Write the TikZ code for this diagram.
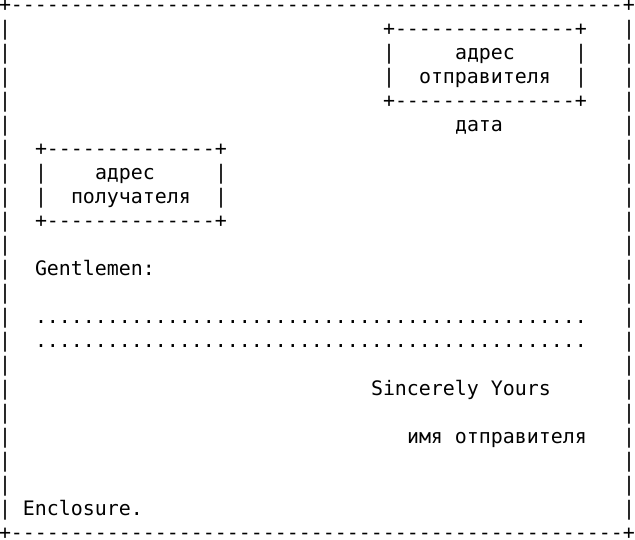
\documentclass[tikz,border=0pt]{standalone}
\usepackage{fontspec}
\setmonofont{DejaVu Sans Mono}
\newcommand\charrun[2]{\foreach \i in {1,...,#1}{#2}}
\begin{document}
\begin{tikzpicture}[x=12pt,y=-24pt]
        \tikzset{
            ch/.style={anchor=base west,inner sep=0pt,outer sep=0pt,
                font=\fontsize{19.93pt}{24pt}\selectfont\ttfamily},
        }
        \useasboundingbox (0pt,0pt) rectangle (635pt,-539pt);
        \begin{scope}[shift={(-1pt,-11.5pt)}]
        % outer frame
        \node[ch] (top) at (0,0) {+\charrun{51}{-}+};
        \foreach \r in {1,...,21} {
            \node[ch] (lb\r) at (0,\r) {|};
            \node[ch] (rb\r) at (52,\r) {|};
        }
        \node[ch] (bot) at (0,22) {+\charrun{51}{-}+};

        % sender box
        \node[ch] (stop) at (32,1) {+\charrun{15}{-}+};
        \node[ch] (sl2) at (32,2) {|};
        \node[ch] (sr2) at (48,2) {|};
        \node[ch] (sl3) at (32,3) {|};
        \node[ch] (sr3) at (48,3) {|};
        \node[ch] (sbot) at (32,4) {+\charrun{15}{-}+};
        \node[ch] (sa) at (38,2) {адрес};
        \node[ch] (sb) at (35,3) {отправителя};
        \node[ch] (date) at (38,5) {дата};

        % recipient box
        \node[ch] (rtop) at (3,6) {+\charrun{14}{-}+};
        \node[ch] (rl7) at (3,7) {|};
        \node[ch] (rr7) at (18,7) {|};
        \node[ch] (rl8) at (3,8) {|};
        \node[ch] (rr8) at (18,8) {|};
        \node[ch] (rbot) at (3,9) {+\charrun{14}{-}+};
        \node[ch] (ra) at (8,7) {адрес};
        \node[ch] (rb) at (6,8) {получателя};

        % body
        \node[ch] (greet) at (3,11) {Gentlemen:};
        \node[ch] (body1) at (3,13) {\charrun{46}{.}};
        \node[ch] (body2) at (3,14) {\charrun{46}{.}};
        \node[ch] (close) at (31,16) {Sincerely Yours};
        \node[ch] (sign) at (34,18) {имя отправителя};
        \node[ch] (encl) at (2,21) {Enclosure.};
        \end{scope}
\end{tikzpicture}
\end{document}
